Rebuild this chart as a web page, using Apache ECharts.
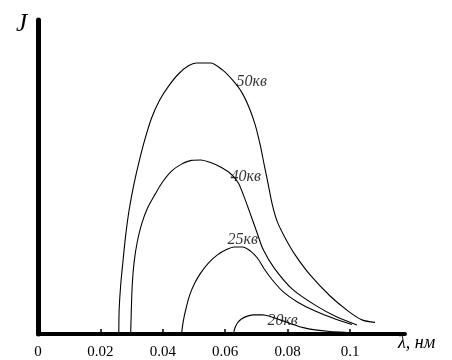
<!DOCTYPE html>
<html>
<head>
<meta charset="utf-8">
<script src="https://cdn.jsdelivr.net/npm/echarts@6/dist/echarts.min.js"></script>
<style>
  html, body { margin: 0; padding: 0; background: #fff; }
  #chart { width: 452px; height: 360px; }
</style>
</head>
<body>
<div id="chart"></div>
<script>
// Wavelength ticks (nm) and their printed labels
const lambdaTicks = [0, 0.02, 0.04, 0.06, 0.08, 0.1];
const tickLabels = ['0', '0.02', '0.04', '0.06', '0.08', '0.1'];

// Tube voltages of the four spectra
const voltageNames = ['50кв', '40кв', '25кв', '20кв'];

// Intensity J (arbitrary units) against wavelength λ (nm)
const spectrum50 = [
  [0.0259, 0], [0.0260, 7.6], [0.0265, 15.6], [0.0272, 22.9], [0.0281, 31.5],
  [0.0292, 39.5], [0.0307, 47.5], [0.0323, 54.5], [0.0342, 61.8], [0.0364, 68.8],
  [0.0390, 74.5], [0.0419, 79.0], [0.0450, 82.8], [0.0482, 85.4], [0.0508, 86.3],
  [0.0553, 86.3], [0.0591, 84.1], [0.0623, 80.9], [0.0652, 77.1], [0.0677, 72.0],
  [0.0696, 66.6], [0.0712, 60.2], [0.0725, 53.8], [0.0738, 47.5], [0.0751, 41.1],
  [0.0767, 35.7], [0.0792, 30.6], [0.0824, 25.2], [0.0872, 18.8], [0.0936, 12.1],
  [0.0994, 7.3], [0.1038, 4.5], [0.1080, 3.7]
];
const spectrum40 = [
  [0.0297, 0], [0.0299, 7.6], [0.0302, 15.6], [0.0308, 22.9], [0.0318, 29.3],
  [0.0332, 35.0], [0.0351, 40.1], [0.0374, 44.3], [0.0399, 48.4], [0.0428, 51.9],
  [0.0460, 54.1], [0.0492, 55.3], [0.0521, 55.4], [0.0553, 54.6], [0.0588, 53.0],
  [0.0620, 50.8], [0.0642, 48.1], [0.0658, 44.3], [0.0677, 39.2], [0.0700, 32.8],
  [0.0722, 26.8], [0.0757, 21.0], [0.0815, 14.3], [0.0888, 9.2], [0.0958, 5.4],
  [0.1022, 2.9]
];
const spectrum25 = [
  [0.0460, 0], [0.0465, 3.8], [0.0473, 7.6], [0.0486, 12.4], [0.0502, 16.2],
  [0.0521, 19.4], [0.0546, 22.6], [0.0575, 25.2], [0.0604, 26.9], [0.0629, 27.7],
  [0.0655, 27.7], [0.0681, 26.4], [0.0703, 24.2], [0.0725, 20.7], [0.0751, 17.2],
  [0.0786, 13.4], [0.0831, 10.2], [0.0888, 7.3], [0.0952, 4.8], [0.1006, 3.0]
];
const spectrum20 = [
  [0.0626, 0], [0.0631, 1.9], [0.0639, 3.5], [0.0652, 4.8], [0.0671, 5.7],
  [0.0693, 6.1], [0.0719, 6.1], [0.0744, 5.6], [0.0776, 4.5], [0.0812, 3.2],
  [0.0847, 2.1], [0.0888, 1.3], [0.0936, 0.8], [0.0990, 0.5], [0.1038, 0.3]
];

// Anchor points (λ, J) where each voltage caption starts
const captionAnchors = [
  [0.0636, 80.3], [0.0617, 50.0], [0.0607, 29.9], [0.0735, 4.1]
];

const serif = '"Liberation Serif", "Times New Roman", serif';

const curves = [spectrum50, spectrum40, spectrum25, spectrum20].map((d, i) => ({
  name: voltageNames[i],
  type: 'line',
  data: d,
  showSymbol: false,
  smooth: 0.3,
  lineStyle: { color: '#000', width: 1.1 },
  silent: true,
  z: 3
}));

const captions = {
  type: 'scatter',
  symbolSize: 0,
  data: captionAnchors.map((p, i) => ({ value: p, name: voltageNames[i] })),
  label: {
    show: true,
    position: 'right',
    distance: 0,
    formatter: (p) => p.name,
    color: '#000',
    fontFamily: serif,
    fontStyle: 'italic',
    fontSize: 16
  },
  silent: true,
  z: 4
};

const chart = echarts.init(document.getElementById('chart'), null, { renderer: 'canvas' });
chart.setOption({
  backgroundColor: '#fff',
  animation: false,
  grid: { left: 38, right: 47, top: 20, bottom: 26 },
  xAxis: {
    type: 'value',
    min: 0,
    max: 0.1176,
    name: 'λ, нм',
    nameLocation: 'end',
    nameGap: -7,
    nameTextStyle: {
      color: '#000', fontFamily: serif, fontStyle: 'italic', fontSize: 18,
      align: 'left', verticalAlign: 'top', padding: [0, 0, 0, 0]
    },
    axisLine: { lineStyle: { color: '#000', width: 4 } },
    axisTick: {
      show: true, inside: true, length: 5,
      customValues: lambdaTicks.slice(1),
      lineStyle: { color: '#000', width: 1.5 }
    },
    axisLabel: {
      customValues: lambdaTicks,
      formatter: (v) => tickLabels[lambdaTicks.findIndex(t => Math.abs(t - v) < 1e-9)] || '',
      color: '#000', fontFamily: serif, fontSize: 15, margin: 11
    },
    splitLine: { show: false }
  },
  yAxis: {
    type: 'value',
    min: 0,
    max: 100,
    name: 'J',
    nameLocation: 'end',
    nameGap: -4,
    nameTextStyle: {
      color: '#000', fontFamily: serif, fontStyle: 'italic', fontSize: 25,
      align: 'right', verticalAlign: 'middle', padding: [0, 11, 0, 0]
    },
    axisLine: { show: true, lineStyle: { color: '#000', width: 5 } },
    axisTick: { show: false },
    axisLabel: { show: false },
    splitLine: { show: false }
  },
  series: [...curves, captions]
});
</script>
</body>
</html>
